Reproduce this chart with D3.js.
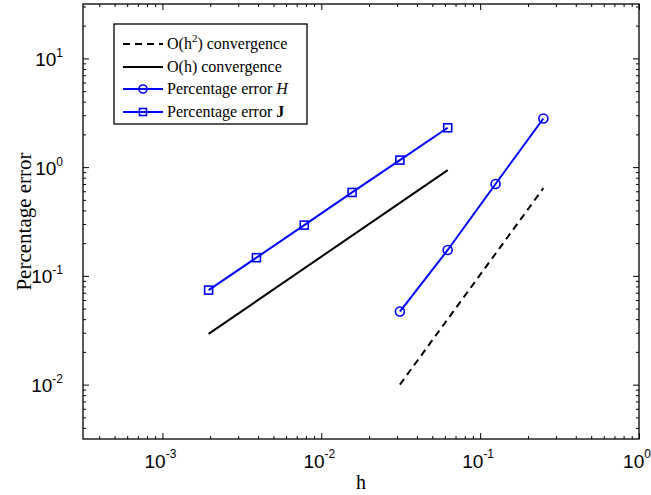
<!DOCTYPE html>
<html>
<head>
<style>
  body { margin: 0; background: #fff; }
  svg { display: block; }
</style>
</head>
<body>
<script src="https://d3js.org/d3.v7.min.js"></script>
<script>
// data
var hJ = [1/512, 1/256, 1/128, 1/64, 1/32, 1/16];
var errJ = [0.074, 0.147, 0.293, 0.585, 1.16, 2.3];
var hH = [1/32, 1/16, 1/8, 1/4];
var errH = [0.047, 0.173, 0.70, 2.8];
var hOh = [1/512, 1/16];
var errOh = [0.0293, 0.9375];
var hOh2 = [1/32, 1/4];
var errOh2 = [0.01, 0.64];
var xTicks = [1e-3, 1e-2, 1e-1, 1];
var xTickExp = ["-3", "-2", "-1", "0"];
var yTicks = [1e-2, 1e-1, 1, 10];
var yTickExp = ["-2", "-1", "0", "1"];
var legendLabels = ["O(h", "O(h) convergence", "Percentage error ", "Percentage error "];

var W = 651, H = 495;
var margin = { top: 4, right: 12, bottom: 56, left: 83 };
var w = W - margin.left - margin.right,
    h = H - margin.top - margin.bottom;

var svg = d3.select("body").append("svg")
    .attr("width", W).attr("height", H);
var g = svg.append("g")
    .attr("transform", "translate(" + margin.left + "," + margin.top + ")");

var x = d3.scaleLog().domain([Math.pow(10, -3.5), 1]).range([0, w]);
var y = d3.scaleLog().domain([Math.pow(10, -2.5), Math.pow(10, 1.5)]).range([h, 0]);

// minor ticks 2..9 per decade
function minors(lo, hi) {
    var out = [];
    for (var e = lo; e < hi; e++)
        for (var k = 2; k < 10; k++) out.push(k * Math.pow(10, e));
    return out;
}
var xMinor = minors(-4, 0).filter(function (v) { return v >= x.domain()[0] && v <= 1; });
var yMinor = minors(-3, 2).filter(function (v) { return v >= y.domain()[0] && v <= y.domain()[1]; });

function tickAxis(axis, vals, size) {
    return axis.tickValues(vals).tickSize(size).tickFormat("");
}
var axes = [
    { a: d3.axisBottom(x), vals: xTicks, t: "translate(0," + h + ")", s: -6 },
    { a: d3.axisBottom(x), vals: xMinor, t: "translate(0," + h + ")", s: -3 },
    { a: d3.axisTop(x), vals: xTicks, t: "translate(0,0)", s: -6 },
    { a: d3.axisTop(x), vals: xMinor, t: "translate(0,0)", s: -3 },
    { a: d3.axisLeft(y), vals: yTicks, t: "translate(0,0)", s: -6 },
    { a: d3.axisLeft(y), vals: yMinor, t: "translate(0,0)", s: -3 },
    { a: d3.axisRight(y), vals: yTicks, t: "translate(" + w + ",0)", s: -6 },
    { a: d3.axisRight(y), vals: yMinor, t: "translate(" + w + ",0)", s: -3 }
];
axes.forEach(function (d) {
    var ax = g.append("g").attr("transform", d.t)
        .call(tickAxis(d.a, d.vals, d.s));
    ax.select(".domain").remove();
    ax.selectAll("line").attr("stroke", "#000").attr("stroke-width", 1);
});
g.append("rect").attr("width", w).attr("height", h)
    .attr("fill", "none").attr("stroke", "#000").attr("stroke-width", 1.3);

// tick labels with exponents
var tickFont = "'Liberation Sans', Arial, sans-serif";
xTicks.forEach(function (v, i) {
    var t = g.append("text").attr("x", x(v) - 2).attr("y", h + 29)
        .attr("text-anchor", "middle").attr("font-family", tickFont)
        .attr("font-size", 19).attr("fill", "#000");
    t.append("tspan").text("10");
    t.append("tspan").attr("dy", -10).attr("font-size", 12).text(xTickExp[i]);
});
yTicks.forEach(function (v, i) {
    var t = g.append("text").attr("x", -20).attr("y", y(v) + 7.5)
        .attr("text-anchor", "end").attr("font-family", tickFont)
        .attr("font-size", 19).attr("fill", "#000");
    t.append("tspan").text("10");
    t.append("tspan").attr("dy", -9).attr("font-size", 12).text(yTickExp[i]);
});

// axis titles
var serif = "'Liberation Serif', 'Times New Roman', serif";
svg.append("text").attr("x", margin.left + w / 2).attr("y", 489)
    .attr("text-anchor", "middle").attr("font-family", serif)
    .attr("font-size", 20).text("h");
svg.append("text")
    .attr("transform", "translate(31," + (margin.top + h / 2) + ") rotate(-90)")
    .attr("text-anchor", "middle").attr("font-family", serif)
    .attr("font-size", 21).text("Percentage error");

// series
var line = d3.line().x(function (d) { return x(d[0]); }).y(function (d) { return y(d[1]); });
function pairs(a, b) { return a.map(function (v, i) { return [v, b[i]]; }); }

g.append("path").datum(pairs(hOh2, errOh2)).attr("d", line)
    .attr("fill", "none").attr("stroke", "#000").attr("stroke-width", 2)
    .attr("stroke-dasharray", "7,5");
g.append("path").datum(pairs(hOh, errOh)).attr("d", line)
    .attr("fill", "none").attr("stroke", "#000").attr("stroke-width", 2);

var blue = "#0000ff";
g.append("path").datum(pairs(hH, errH)).attr("d", line)
    .attr("fill", "none").attr("stroke", blue).attr("stroke-width", 2);
g.selectAll(".mH").data(pairs(hH, errH)).enter().append("circle")
    .attr("cx", function (d) { return x(d[0]); })
    .attr("cy", function (d) { return y(d[1]); })
    .attr("r", 4.5).attr("fill", "none").attr("stroke", blue).attr("stroke-width", 1.6);

g.append("path").datum(pairs(hJ, errJ)).attr("d", line)
    .attr("fill", "none").attr("stroke", blue).attr("stroke-width", 2);
g.selectAll(".mJ").data(pairs(hJ, errJ)).enter().append("rect")
    .attr("x", function (d) { return x(d[0]) - 4; })
    .attr("y", function (d) { return y(d[1]) - 4; })
    .attr("width", 8).attr("height", 8)
    .attr("fill", "none").attr("stroke", blue).attr("stroke-width", 1.6);

// legend
var lg = svg.append("g").attr("transform", "translate(114,24)");
lg.append("rect").attr("width", 193).attr("height", 100)
    .attr("fill", "#fff").attr("stroke", "#000").attr("stroke-width", 1.3);
var rowY = [20, 43, 65, 88];
var styles = [
    { c: "#000", dash: "7,5", m: null },
    { c: "#000", dash: null, m: null },
    { c: blue, dash: null, m: "circle" },
    { c: blue, dash: null, m: "square" }
];
styles.forEach(function (s, i) {
    var yy = rowY[i];
    lg.append("line").attr("x1", 9).attr("x2", 49).attr("y1", yy).attr("y2", yy)
        .attr("stroke", s.c).attr("stroke-width", 2)
        .attr("stroke-dasharray", s.dash);
    if (s.m === "circle")
        lg.append("circle").attr("cx", 29).attr("cy", yy).attr("r", 4)
            .attr("fill", "none").attr("stroke", blue).attr("stroke-width", 1.6);
    if (s.m === "square")
        lg.append("rect").attr("x", 25.5).attr("y", yy - 3.5).attr("width", 7).attr("height", 7)
            .attr("fill", "none").attr("stroke", blue).attr("stroke-width", 1.6);
    var t = lg.append("text").attr("x", 53).attr("y", yy + 5)
        .attr("font-family", serif).attr("font-size", 16).attr("fill", "#000");
    t.append("tspan").text(legendLabels[i]);
    if (i === 0) {
        t.append("tspan").attr("dy", -7).attr("font-size", 11).text("2");
        t.append("tspan").attr("dy", 7).text(") convergence");
    }
    if (i === 2) t.append("tspan").attr("font-style", "italic").text("H");
    if (i === 3) t.append("tspan").attr("font-weight", "bold").text("J");
});
</script>
</body>
</html>
